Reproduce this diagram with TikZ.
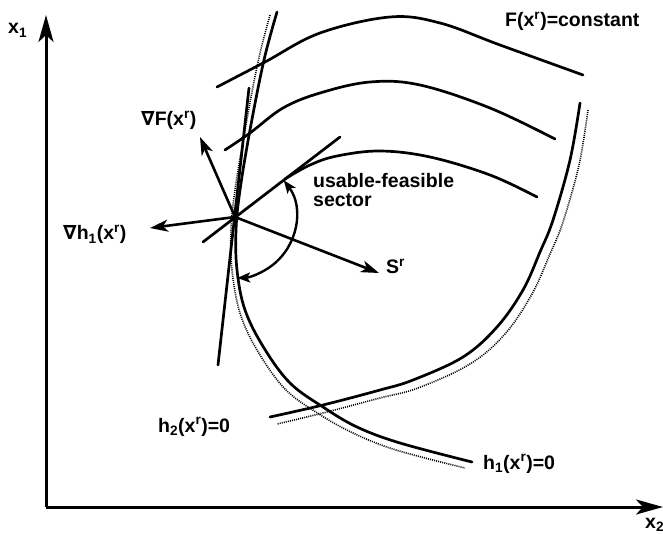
\documentclass[tikz,border=0pt]{standalone}
\usepackage{fontspec}
\setmainfont{Liberation Sans}
\newfontfamily\dvsans{DejaVu Sans}
\usetikzlibrary{arrows.meta}
\newcommand{\nab}{{\dvsans\bfseries ∇}}
\begin{document}
\begin{tikzpicture}[x=1pt,y=-1pt,
  lbl/.style={font=\fontsize{19.5}{19.5}\selectfont\bfseries, inner sep=0pt, anchor=base west},
  curve/.style={line width=2.7pt, line cap=round},
  dcurve/.style={line width=1.6pt, dash pattern=on 1pt off 1.1pt},
  axis/.style={line width=3pt, -{Stealth[length=27pt,width=15pt,inset=7pt]}},
  vec/.style={line width=2.6pt, -{Stealth[length=18pt,width=12pt,inset=5pt]}},
  sect/.style={line width=2.4pt, {Stealth[length=13pt,width=10pt,inset=3pt]}-{Stealth[length=13pt,width=10pt,inset=3pt]}}]
\useasboundingbox (0,0) rectangle (663,534);
% axes
\coordinate (O) at (46,507);
\coordinate (Ytip) at (46,15);
\coordinate (Xtip) at (663,507);
\draw[axis] (O) -- (Ytip);
\draw[axis] (O) -- (Xtip);
\node[lbl] (lx1) at (8,34) {x\textsubscript{1}};
\node[lbl] (lx2) at (645,528) {x\textsubscript{2}};
% F contours
\draw[curve] plot[smooth,tension=0.6] coordinates {(217,87) (265,62) (320,33) (390,17) (440,23) (500,45) (583,75)};
\draw[curve] plot[smooth,tension=0.6] coordinates {(225,150) (250,133) (283,108) (320,93) (370,82) (420,85) (490,108) (555,139)};
\draw[curve] plot[smooth,tension=0.6] coordinates {(285,179) (310,165) (337,156) (380,151) (430,157) (490,175) (537,197)};
% h1 curve
\draw[dcurve] plot[smooth,tension=0.6] coordinates {(270,15) (258,62) (245,130) (235,190) (231,230) (232,270) (240,313) (257,350) (285,389) (319,414) (353,433) (396,450) (465,468)};
\draw[curve] plot[smooth,tension=0.6] coordinates {(277,12) (264,60) (250,130) (240,190) (236,230) (237,270) (245,310) (264,348) (290,383) (323,407) (357,427) (400,443) (472,462)};
% h2 curve
\draw[dcurve] plot[smooth,tension=0.6] coordinates {(588,110) (579,165) (563,222) (550,254) (532,294) (505,334) (470,364) (418,388) (380,398) (323,413) (277,424)};
\draw[curve] plot[smooth,tension=0.6] coordinates {(580,103) (570,160) (553,220) (540,252) (523,290) (497,327) (463,357) (413,380) (380,390) (323,405) (270,417)};
% point and tangent lines
\coordinate (P) at (235,217);
\coordinate (T1a) at (249,88);
\coordinate (T1b) at (218,365);
\draw[curve] (T1a) -- (T1b);
\coordinate (T2a) at (203,242);
\coordinate (T2b) at (340,137);
\draw[curve] (T2a) -- (T2b);
% vectors
\coordinate (GF) at (200,137);
\coordinate (GH) at (150,228);
\coordinate (SR) at (379,273);
\draw[vec] (P) -- (GF);
\draw[vec] (P) -- (GH);
\draw[vec] (P) -- (SR);
% sector arc
\draw[sect] (P) ++(-37:61) arc[start angle=-37, end angle=88, radius=61];
% labels
\node[lbl] (lF) at (505,27) {F(x\textsuperscript{r})=constant};
\node[lbl] (lgF) at (141,126) {\nab F(x\textsuperscript{r})};
\node[lbl] (lgH) at (63,240) {\nab h\textsubscript{1}(x\textsuperscript{r})};
\node[lbl] (lS) at (386,274) {S\textsuperscript{r}};
\node[lbl] (lU) at (313,188) {usable-feasible};
\node[lbl] (lU2) at (313,207) {sector};
\node[lbl] (lh2) at (158,432) {h\textsubscript{2}(x\textsuperscript{r})=0};
\node[lbl] (lh1) at (483,469) {h\textsubscript{1}(x\textsuperscript{r})=0};
\end{tikzpicture}
\end{document}
